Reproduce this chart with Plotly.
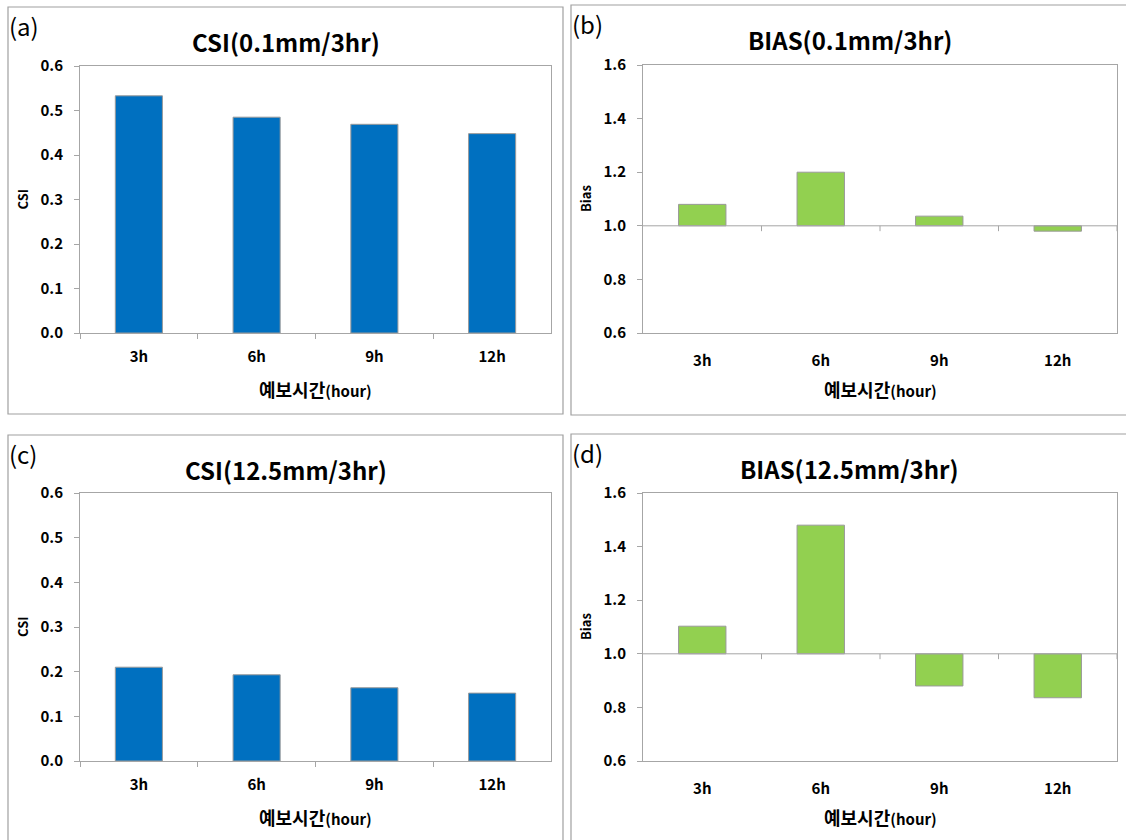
import plotly.graph_objects as go

W, H = 1126, 840

categories = ["3h", "6h", "9h", "12h"]
csi_01 = [0.533, 0.485, 0.469, 0.448]
bias_01 = [1.08, 1.20, 1.036, 0.98]
csi_125 = [0.210, 0.193, 0.164, 0.152]
bias_125 = [1.103, 1.48, 0.88, 0.836]
bias_base = 1.0

titles = ["CSI(0.1mm/3hr)", "BIAS(0.1mm/3hr)", "CSI(12.5mm/3hr)", "BIAS(12.5mm/3hr)"]
panel_labels = ["(a)", "(b)", "(c)", "(d)"]
xlabel_main = "예보시간"
xlabel_unit = "(hour)"

FONT = "Noto Sans CJK KR, Malgun Gothic, sans-serif"
BLUE = "#0070C0"
GREEN = "#92D050"
GRID = "#A6A6A6"
BOX = "#A0A0A0"


def px(x):
    return x / W


def py(y):
    return 1 - y / H


fig = go.Figure()

# plot areas in pixels (x0, x1, ytop, ybottom)
areas = [
    (80, 551, 66, 333),
    (643, 1117, 65, 333),
    (80, 551, 493, 761),
    (643, 1117, 493, 761),
]
# outer chart boxes (x0, y0, x1, y1) in px
boxes = [
    (8, 7, 563, 414),
    (571, 5, 1130, 415),
    (8, 435, 563, 845),
    (571, 434, 1130, 845),
]

series = [csi_01, bias_01, csi_125, bias_125]
is_bias = [False, True, False, True]

for i in range(4):
    n = "" if i == 0 else str(i + 1)
    xa, ya = "x" + n, "y" + n
    vals = series[i]
    if is_bias[i]:
        fig.add_trace(go.Bar(
            x=categories, y=[v - bias_base for v in vals], base=bias_base,
            marker=dict(color=GREEN, line=dict(color="#9A9A9A", width=1)),
            width=0.4, xaxis=xa, yaxis=ya, showlegend=False,
        ))
    else:
        fig.add_trace(go.Bar(
            x=categories, y=vals,
            marker=dict(color=BLUE, line=dict(color="#9A9A9A", width=1)),
            width=0.4, xaxis=xa, yaxis=ya, showlegend=False,
        ))

    x0, x1, yt, yb = areas[i]
    xkey = "xaxis" + n
    ykey = "yaxis" + n
    fig.layout[xkey] = dict(
        domain=[px(x0), px(x1)], anchor=ya, type="category",
        categoryorder="array", categoryarray=categories,
        range=[-0.5, 3.5], automargin=False,
        showline=True, linecolor=GRID, linewidth=1, mirror=True,
        ticks="" if is_bias[i] else "outside", tickson="boundaries",
        ticklen=5, tickcolor=GRID, ticklabelstandoff=10 if not is_bias[i] else 14,
        tickfont=dict(family=FONT, size=15, color="#000", weight="bold"),
        showgrid=False, zeroline=False, fixedrange=True,
    )
    if is_bias[i]:
        yr = [0.6, 1.6]
        tv = [0.6, 0.8, 1.0, 1.2, 1.4, 1.6]
    else:
        yr = [0.0, 0.6]
        tv = [0.0, 0.1, 0.2, 0.3, 0.4, 0.5, 0.6]
    fig.layout[ykey] = dict(
        domain=[py(yb), py(yt)], anchor=xa, range=yr, automargin=False,
        tickvals=tv, tickformat=".1f",
        showline=True, linecolor=GRID, linewidth=1, mirror=True,
        ticks="outside", ticklen=5, tickcolor=GRID, ticklabelstandoff=8,
        tickfont=dict(family=FONT, size=15, color="#000", weight="bold"),
        showgrid=False, zeroline=False, fixedrange=True,
    )

    # baseline at 1.0 with boundary ticks for bias panels
    if is_bias[i]:
        fig.add_shape(type="line", xref=xa + " domain", yref=ya,
                      x0=0, x1=1, y0=bias_base, y1=bias_base,
                      line=dict(color=GRID, width=1))
        for b in [0.5, 1.5, 2.5, 3.5]:
            fig.add_shape(type="line", xref=xa, yref=ya,
                          x0=b, x1=b, y0=bias_base, y1=bias_base - 0.02,
                          line=dict(color=GRID, width=1))

    # outer box
    bx0, by0, bx1, by1 = boxes[i]
    fig.add_shape(type="rect", xref="paper", yref="paper",
                  x0=px(bx0), x1=px(bx1), y0=py(by1), y1=py(by0),
                  line=dict(color=BOX, width=1.2), fillcolor="rgba(0,0,0,0)",
                  layer="below")

    # title
    fig.add_annotation(text=titles[i], xref="paper", yref="paper",
                       x=px((bx0 + min(bx1, W)) / 2 + (0 if i % 2 == 0 else 1)),
                       y=py(by0 + 34), showarrow=False,
                       font=dict(family=FONT, size=24, color="#000", weight="bold"),
                       xanchor="center", yanchor="middle")
    # panel label
    fig.add_annotation(text=panel_labels[i], xref="paper", yref="paper",
                       x=px(bx0 - 1), y=py(by0 + 18), showarrow=False,
                       font=dict(family=FONT, size=24, color="#000"),
                       xanchor="left", yanchor="middle")
    # x axis title
    fig.add_annotation(
        text=xlabel_main + "<span style='font-size:15px'>" + xlabel_unit + "</span>",
        xref="paper", yref="paper", x=px((x0 + x1) / 2), y=py(yb + 56),
        showarrow=False,
        font=dict(family=FONT, size=18, color="#000", weight="bold"),
        xanchor="center", yanchor="middle")
    # y axis title
    fig.add_annotation(
        text="Bias" if is_bias[i] else "CSI",
        xref="paper", yref="paper", x=px(x0 - 58), y=py((yt + yb) / 2),
        showarrow=False, textangle=-90,
        font=dict(family=FONT, size=13, color="#000", weight="bold"),
        xanchor="center", yanchor="middle")

fig.update_layout(
    width=W, height=H,
    margin=dict(l=0, r=0, t=0, b=0, autoexpand=False),
    paper_bgcolor="white", plot_bgcolor="white",
    bargap=0.6, showlegend=False,
    font=dict(family=FONT),
)

fig.write_html("out.html",
               config={"displayModeBar": False},
               post_script="document.body.style.margin='0';document.body.style.overflow='hidden';")
